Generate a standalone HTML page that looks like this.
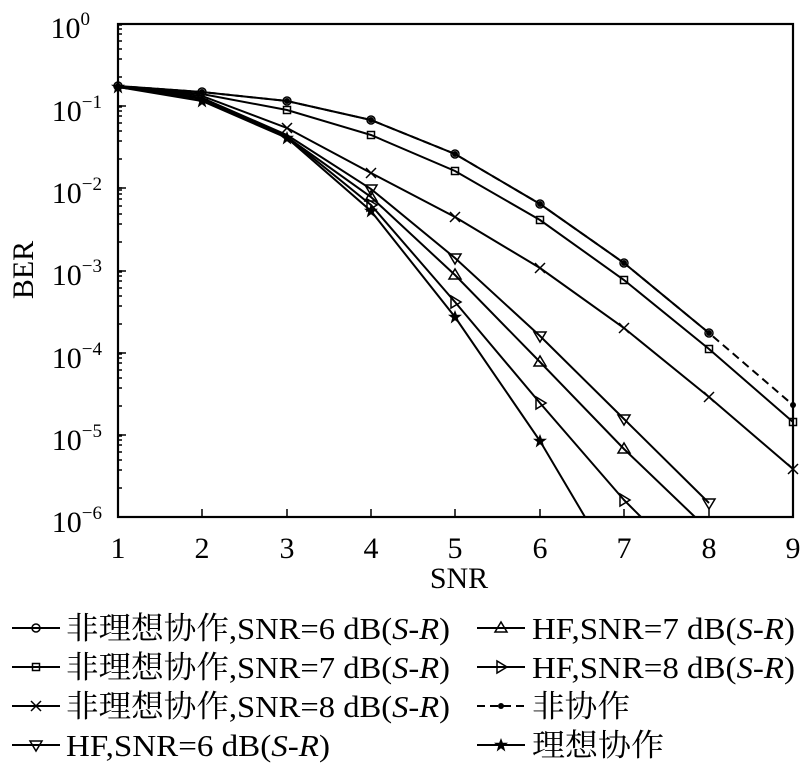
<!DOCTYPE html><html><head><meta charset="utf-8"><style>body{margin:0;background:#fff}svg{display:block}text{font-family:"Liberation Serif","Noto Serif CJK SC",serif;fill:#000}</style></head><body>
<svg width="800" height="770" xmlns="http://www.w3.org/2000/svg">
<defs>
<g id="c"><circle r="4" fill="none" stroke="#000" stroke-width="1.5"/></g>
<g id="s"><rect x="-3.5" y="-3.5" width="7" height="7" fill="none" stroke="#000" stroke-width="1.5"/></g>
<g id="x"><path d="M-5,-5L5,5M-5,5L5,-5" stroke="#000" stroke-width="1.5"/></g>
<g id="d"><path d="M-6,-4L6,-4L0,6Z" fill="none" stroke="#000" stroke-width="1.5"/></g>
<g id="u"><path d="M-6,4L6,4L0,-6Z" fill="none" stroke="#000" stroke-width="1.5"/></g>
<g id="r"><path d="M-4,-6L-4,6L6,0Z" fill="none" stroke="#000" stroke-width="1.5"/></g>
<g id="t"><path d="M0,-7L1.8,-2.2L7,-2.2L2.8,1L4.3,6.5L0,3.3L-4.3,6.5L-2.8,1L-7,-2.2L-1.8,-2.2Z" fill="#000"/></g>
<g id="o"><circle r="3" fill="#000"/></g>
<path id="mt" d="M118,0h4M118,-29h4M118,-47h4M118,-57h4M118,-65h4M118,-72h4M118,-77h4M118,-81h4"/>
</defs>
<g fill="none" stroke="#000" stroke-width="2.2">
<rect x="118" y="24" width="675" height="493"/>
</g>
<g stroke="#000" stroke-width="1.5">
<path d="M202,517v-8M287,517v-8M371,517v-8M455,517v-8M540,517v-8M624,517v-8M709,517v-8"/>
<path d="M118,106h8M118,188h8M118,271h8M118,353h8M118,435h8"/>
<use href="#mt" y="106"/><use href="#mt" y="188"/><use href="#mt" y="271"/><use href="#mt" y="353"/><use href="#mt" y="435"/><use href="#mt" y="517"/>
</g>
<g font-size="30" text-anchor="middle">
<text x="118" y="558">1</text><text x="202" y="558">2</text><text x="287" y="558">3</text><text x="371" y="558">4</text><text x="455" y="558">5</text><text x="540" y="558">6</text><text x="624" y="558">7</text><text x="709" y="558">8</text><text x="793" y="558">9</text>
<text x="459" y="588">SNR</text>
<text transform="translate(33,270) rotate(-90)">BER</text>
</g>
<g font-size="30" text-anchor="end">
<text x="90" y="38">10<tspan font-size="19" dy="-13">0</tspan></text>
<text x="102" y="121">10<tspan font-size="19" dy="-13">−1</tspan></text>
<text x="102" y="203">10<tspan font-size="19" dy="-13">−2</tspan></text>
<text x="102" y="285">10<tspan font-size="19" dy="-13">−3</tspan></text>
<text x="102" y="368">10<tspan font-size="19" dy="-13">−4</tspan></text>
<text x="102" y="450">10<tspan font-size="19" dy="-13">−5</tspan></text>
<text x="102" y="532">10<tspan font-size="19" dy="-13">−6</tspan></text>
</g>
<g fill="none" stroke="#000" stroke-width="2">
<polyline stroke-dasharray="8,5" points="118,86 202,92 287,101 371,120 455,154 540,204 624,263 709,333 793,405"/>
<polyline points="118,86 202,92 287,101 371,120 455,154 540,204 624,263 709,333"/>
<polyline points="118,86 202,94 287,110 371,135 455,171 540,220 624,280 709,349 793,422"/>
<polyline points="118,86 202,96 287,128 371,173 455,217 540,268 624,328 709,397 793,469"/>
<polyline points="118,87 202,98 287,135 371,189 455,258 540,336 624,419 709,503"/>
<polyline points="118,87 202,98 287,137 371,197 455,275 540,362 624,449 695,517"/>
<polyline points="118,87 202,99 287,137 371,205 455,302 540,403 624,500 641,517"/>
<polyline points="118,87 202,101 287,138 371,211 455,317 540,441 585,517"/>
</g>
<g>
<use href="#o" x="793" y="405"/>
<use href="#c" x="118" y="86"/><use href="#c" x="202" y="92"/><use href="#c" x="287" y="101"/><use href="#c" x="371" y="120"/><use href="#c" x="455" y="154"/><use href="#c" x="540" y="204"/><use href="#c" x="624" y="263"/><use href="#c" x="709" y="333"/>
<use href="#o" x="118" y="86"/><use href="#o" x="202" y="92"/><use href="#o" x="287" y="101"/><use href="#o" x="371" y="120"/><use href="#o" x="455" y="154"/><use href="#o" x="540" y="204"/><use href="#o" x="624" y="263"/><use href="#o" x="709" y="333"/>
<use href="#s" x="287" y="110"/><use href="#s" x="371" y="135"/><use href="#s" x="455" y="171"/><use href="#s" x="540" y="220"/><use href="#s" x="624" y="280"/><use href="#s" x="709" y="349"/><use href="#s" x="793" y="422"/>
<use href="#x" x="287" y="128"/><use href="#x" x="371" y="173"/><use href="#x" x="455" y="217"/><use href="#x" x="540" y="268"/><use href="#x" x="624" y="328"/><use href="#x" x="709" y="397"/><use href="#x" x="793" y="469"/>
<use href="#d" x="371" y="189"/><use href="#d" x="455" y="258"/><use href="#d" x="540" y="336"/><use href="#d" x="624" y="419"/><use href="#d" x="709" y="503"/>
<use href="#u" x="371" y="197"/><use href="#u" x="455" y="275"/><use href="#u" x="540" y="362"/><use href="#u" x="624" y="449"/>
<use href="#r" x="371" y="205"/><use href="#r" x="455" y="302"/><use href="#r" x="540" y="403"/><use href="#r" x="624" y="500"/>
<use href="#t" x="118" y="87"/><use href="#t" x="202" y="101"/><use href="#t" x="287" y="138"/><use href="#t" x="371" y="211"/><use href="#t" x="455" y="317"/><use href="#t" x="540" y="441"/>
</g>
<g stroke="#000" stroke-width="2">
<path d="M12,628h48M12,667h48M12,706h48M12,745h48M477,628h48M477,667h48M477,745h48"/>
<path d="M477,706h48" stroke-dasharray="8,5"/>
</g>
<use href="#c" x="36" y="628"/><use href="#s" x="36" y="667"/><use href="#x" x="36" y="706"/><use href="#d" x="36" y="745"/>
<use href="#u" x="501" y="628"/><use href="#r" x="501" y="667"/><use href="#o" x="501" y="706"/><use href="#t" x="501" y="745"/>
<g font-size="31">
<text x="66" y="639" textLength="384" lengthAdjust="spacingAndGlyphs">非理想协作,SNR=6 dB(<tspan font-style="italic">S</tspan>-<tspan font-style="italic">R</tspan>)</text>
<text x="66" y="678" textLength="384" lengthAdjust="spacingAndGlyphs">非理想协作,SNR=7 dB(<tspan font-style="italic">S</tspan>-<tspan font-style="italic">R</tspan>)</text>
<text x="66" y="717" textLength="384" lengthAdjust="spacingAndGlyphs">非理想协作,SNR=8 dB(<tspan font-style="italic">S</tspan>-<tspan font-style="italic">R</tspan>)</text>
<text x="66" y="756" textLength="264" lengthAdjust="spacingAndGlyphs">HF,SNR=6 dB(<tspan font-style="italic">S</tspan>-<tspan font-style="italic">R</tspan>)</text>
<text x="532" y="639" textLength="263" lengthAdjust="spacingAndGlyphs">HF,SNR=7 dB(<tspan font-style="italic">S</tspan>-<tspan font-style="italic">R</tspan>)</text>
<text x="532" y="678" textLength="263" lengthAdjust="spacingAndGlyphs">HF,SNR=8 dB(<tspan font-style="italic">S</tspan>-<tspan font-style="italic">R</tspan>)</text>
<text x="532" y="717" textLength="98" lengthAdjust="spacingAndGlyphs">非协作</text>
<text x="532" y="756" textLength="132" lengthAdjust="spacingAndGlyphs">理想协作</text>
</g>
</svg></body></html>
